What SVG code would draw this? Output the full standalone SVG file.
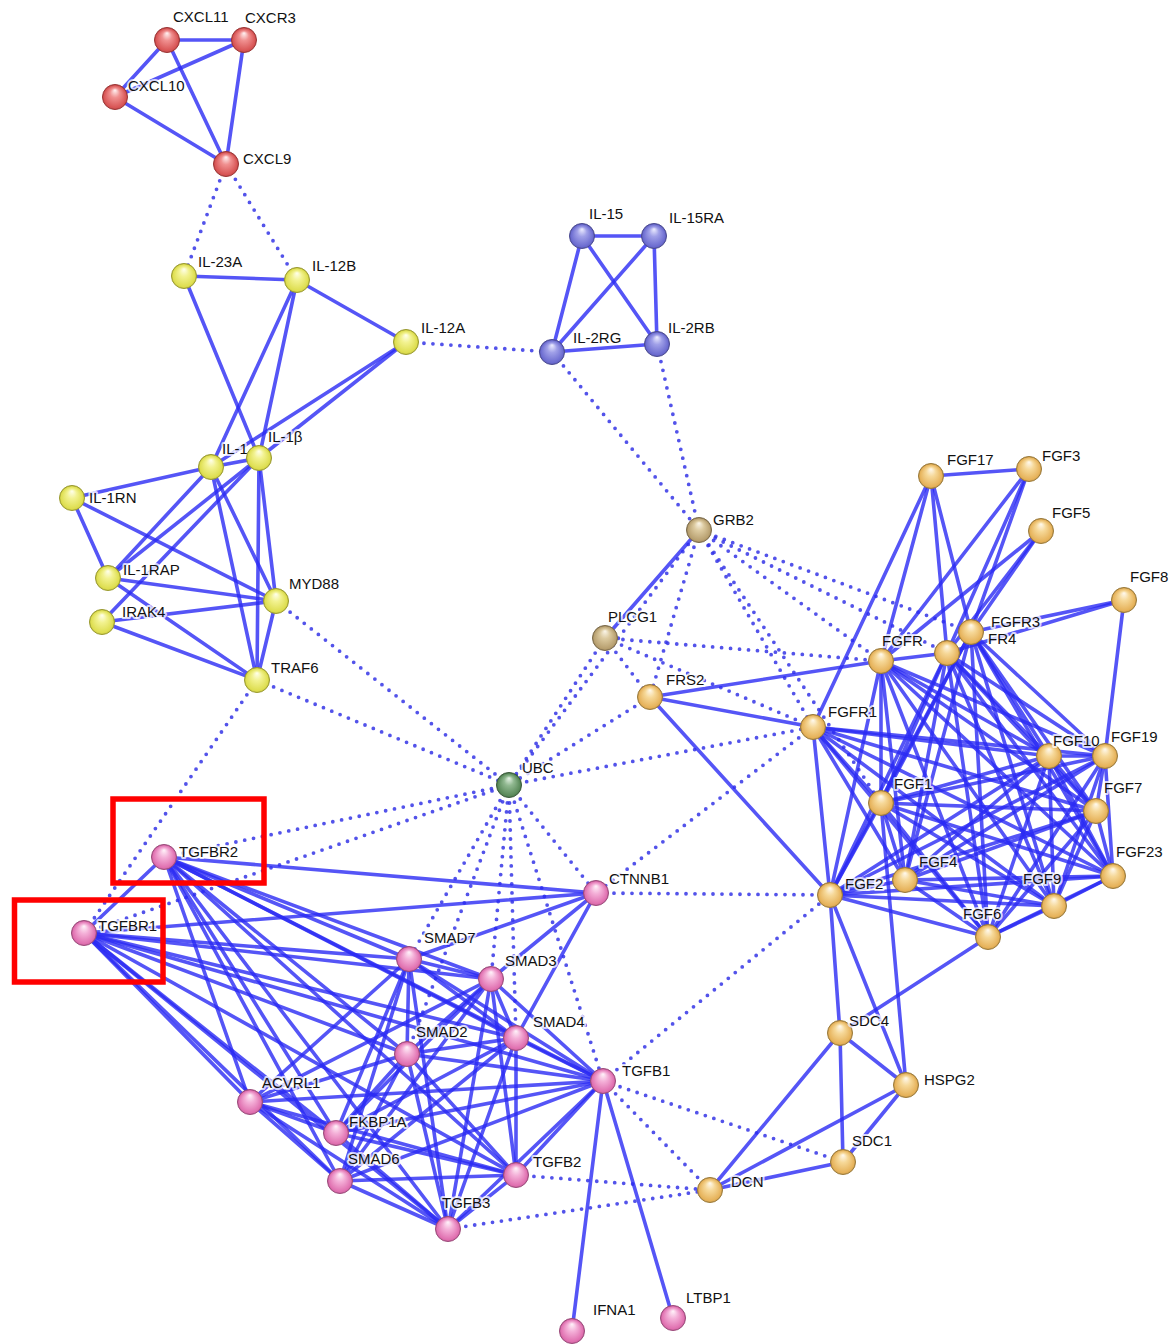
<svg xmlns="http://www.w3.org/2000/svg" width="1175" height="1344" viewBox="0 0 1175 1344">
<defs>
<style>
.s line{stroke:#2a2af4;stroke-opacity:0.8;stroke-width:3.6;stroke-linecap:round}
.d line{stroke:#3535e6;stroke-opacity:0.85;stroke-width:3.8;stroke-linecap:round;stroke-dasharray:0 9}
.n circle{stroke-width:1}
.n text{font-family:"Liberation Sans",Arial,sans-serif;font-size:15px;fill:#111;stroke:#fff;stroke-opacity:0.75;stroke-width:4;paint-order:stroke;stroke-linejoin:round}
.red circle{fill:url(#gRed);stroke:#9a3434}
.yel circle{fill:url(#gYel);stroke:#9a9a30}
.blu circle{fill:url(#gBlu);stroke:#4a4a90}
.gol circle{fill:url(#gGol);stroke:#9a7a3a}
.pnk circle{fill:url(#gPnk);stroke:#9a4a7a}
.grn circle{fill:url(#gGrn);stroke:#3a5a3a}
.kha circle{fill:url(#gKha);stroke:#7a6a4a}
.box{fill:none;stroke:#ff0000;stroke-width:5.5}
</style>
<radialGradient id="gRed" cx="50%" cy="55%" r="55%" fx="50%" fy="22%"><stop offset="0" stop-color="#fff4f4"/><stop offset="0.35" stop-color="#f09090"/><stop offset="0.8" stop-color="#d85555"/><stop offset="1" stop-color="#a83a3a"/></radialGradient>
<radialGradient id="gYel" cx="50%" cy="55%" r="55%" fx="50%" fy="22%"><stop offset="0" stop-color="#ffffee"/><stop offset="0.35" stop-color="#f2f290"/><stop offset="0.8" stop-color="#dede50"/><stop offset="1" stop-color="#a8a830"/></radialGradient>
<radialGradient id="gBlu" cx="50%" cy="55%" r="55%" fx="50%" fy="22%"><stop offset="0" stop-color="#eeeeff"/><stop offset="0.35" stop-color="#a0a0e8"/><stop offset="0.8" stop-color="#6c6cd0"/><stop offset="1" stop-color="#4a4aa0"/></radialGradient>
<radialGradient id="gGol" cx="50%" cy="55%" r="55%" fx="50%" fy="22%"><stop offset="0" stop-color="#fffaf0"/><stop offset="0.35" stop-color="#f6d898"/><stop offset="0.8" stop-color="#e6b25a"/><stop offset="1" stop-color="#a8803a"/></radialGradient>
<radialGradient id="gPnk" cx="50%" cy="55%" r="55%" fx="50%" fy="22%"><stop offset="0" stop-color="#fff4fa"/><stop offset="0.35" stop-color="#f4b0d8"/><stop offset="0.8" stop-color="#e070b0"/><stop offset="1" stop-color="#a84a80"/></radialGradient>
<radialGradient id="gGrn" cx="50%" cy="55%" r="55%" fx="50%" fy="22%"><stop offset="0" stop-color="#e8f4e8"/><stop offset="0.35" stop-color="#90b890"/><stop offset="0.8" stop-color="#5a8a5a"/><stop offset="1" stop-color="#3a5e3a"/></radialGradient>
<radialGradient id="gKha" cx="50%" cy="55%" r="55%" fx="50%" fy="22%"><stop offset="0" stop-color="#fbf6ea"/><stop offset="0.35" stop-color="#dccaa0"/><stop offset="0.8" stop-color="#b8a070"/><stop offset="1" stop-color="#826c44"/></radialGradient>
</defs>
<rect width="1175" height="1344" fill="#ffffff"/>
<g id="connectors">
<g class="d">
<line x1="226" y1="164" x2="184" y2="276"/>
<line x1="226" y1="164" x2="297" y2="280"/>
<line x1="406" y1="342" x2="552" y2="352"/>
<line x1="276" y1="601" x2="509" y2="785"/>
<line x1="257" y1="680" x2="509" y2="785"/>
<line x1="257" y1="680" x2="84" y2="933"/>
<line x1="552" y1="352" x2="699" y2="530"/>
<line x1="657" y1="344" x2="699" y2="530"/>
<line x1="699" y1="530" x2="650" y2="697"/>
<line x1="699" y1="530" x2="813" y2="727"/>
<line x1="699" y1="530" x2="881" y2="803"/>
<line x1="699" y1="530" x2="881" y2="661"/>
<line x1="699" y1="530" x2="947" y2="653"/>
<line x1="699" y1="530" x2="971" y2="632"/>
<line x1="699" y1="530" x2="509" y2="785"/>
<line x1="605" y1="638" x2="650" y2="697"/>
<line x1="605" y1="638" x2="881" y2="661"/>
<line x1="605" y1="638" x2="813" y2="727"/>
<line x1="605" y1="638" x2="509" y2="785"/>
<line x1="650" y1="697" x2="509" y2="785"/>
<line x1="509" y1="785" x2="813" y2="727"/>
<line x1="509" y1="785" x2="164" y2="857"/>
<line x1="509" y1="785" x2="84" y2="933"/>
<line x1="509" y1="785" x2="596" y2="893"/>
<line x1="509" y1="785" x2="409" y2="959"/>
<line x1="509" y1="785" x2="491" y2="979"/>
<line x1="509" y1="785" x2="407" y2="1054"/>
<line x1="509" y1="785" x2="516" y2="1038"/>
<line x1="509" y1="785" x2="603" y2="1081"/>
<line x1="813" y1="727" x2="596" y2="893"/>
<line x1="596" y1="893" x2="830" y2="895"/>
<line x1="603" y1="1081" x2="830" y2="895"/>
<line x1="603" y1="1081" x2="843" y2="1162"/>
<line x1="603" y1="1081" x2="710" y2="1190"/>
<line x1="516" y1="1175" x2="710" y2="1190"/>
<line x1="448" y1="1229" x2="710" y2="1190"/>
</g>
<g class="s">
<line x1="167" y1="40" x2="244" y2="40"/>
<line x1="167" y1="40" x2="115" y2="97"/>
<line x1="115" y1="97" x2="244" y2="40"/>
<line x1="167" y1="40" x2="226" y2="164"/>
<line x1="244" y1="40" x2="226" y2="164"/>
<line x1="115" y1="97" x2="226" y2="164"/>
<line x1="184" y1="276" x2="297" y2="280"/>
<line x1="184" y1="276" x2="259" y2="458"/>
<line x1="297" y1="280" x2="211" y2="467"/>
<line x1="297" y1="280" x2="259" y2="458"/>
<line x1="297" y1="280" x2="406" y2="342"/>
<line x1="406" y1="342" x2="211" y2="467"/>
<line x1="406" y1="342" x2="259" y2="458"/>
<line x1="211" y1="467" x2="259" y2="458"/>
<line x1="211" y1="467" x2="72" y2="498"/>
<line x1="72" y1="498" x2="108" y2="578"/>
<line x1="72" y1="498" x2="276" y2="601"/>
<line x1="211" y1="467" x2="108" y2="578"/>
<line x1="259" y1="458" x2="108" y2="578"/>
<line x1="259" y1="458" x2="102" y2="622"/>
<line x1="211" y1="467" x2="276" y2="601"/>
<line x1="211" y1="467" x2="257" y2="680"/>
<line x1="259" y1="458" x2="276" y2="601"/>
<line x1="259" y1="458" x2="257" y2="680"/>
<line x1="108" y1="578" x2="276" y2="601"/>
<line x1="108" y1="578" x2="257" y2="680"/>
<line x1="102" y1="622" x2="276" y2="601"/>
<line x1="102" y1="622" x2="257" y2="680"/>
<line x1="276" y1="601" x2="257" y2="680"/>
<line x1="582" y1="236" x2="654" y2="236"/>
<line x1="582" y1="236" x2="552" y2="352"/>
<line x1="582" y1="236" x2="657" y2="344"/>
<line x1="654" y1="236" x2="552" y2="352"/>
<line x1="654" y1="236" x2="657" y2="344"/>
<line x1="552" y1="352" x2="657" y2="344"/>
<line x1="699" y1="530" x2="605" y2="638"/>
<line x1="650" y1="697" x2="881" y2="661"/>
<line x1="650" y1="697" x2="813" y2="727"/>
<line x1="650" y1="697" x2="830" y2="895"/>
<line x1="830" y1="895" x2="840" y2="1033"/>
<line x1="840" y1="1033" x2="843" y2="1162"/>
<line x1="840" y1="1033" x2="906" y2="1085"/>
<line x1="840" y1="1033" x2="710" y2="1190"/>
<line x1="906" y1="1085" x2="843" y2="1162"/>
<line x1="906" y1="1085" x2="710" y2="1190"/>
<line x1="843" y1="1162" x2="710" y2="1190"/>
<line x1="906" y1="1085" x2="830" y2="895"/>
<line x1="906" y1="1085" x2="881" y2="803"/>
<line x1="840" y1="1033" x2="988" y2="937"/>
<line x1="603" y1="1081" x2="572" y2="1331"/>
<line x1="603" y1="1081" x2="673" y2="1318"/>
<line x1="931" y1="476" x2="1029" y2="469"/>
<line x1="1124" y1="600" x2="1105" y2="756"/>
<line x1="813" y1="727" x2="931" y2="476"/>
<line x1="813" y1="727" x2="1049" y2="756"/>
<line x1="813" y1="727" x2="1105" y2="756"/>
<line x1="813" y1="727" x2="881" y2="803"/>
<line x1="813" y1="727" x2="1096" y2="811"/>
<line x1="813" y1="727" x2="905" y2="880"/>
<line x1="813" y1="727" x2="830" y2="895"/>
<line x1="813" y1="727" x2="1054" y2="906"/>
<line x1="813" y1="727" x2="1113" y2="876"/>
<line x1="813" y1="727" x2="988" y2="937"/>
<line x1="881" y1="661" x2="931" y2="476"/>
<line x1="881" y1="661" x2="1029" y2="469"/>
<line x1="881" y1="661" x2="1041" y2="531"/>
<line x1="881" y1="661" x2="947" y2="653"/>
<line x1="881" y1="661" x2="1049" y2="756"/>
<line x1="881" y1="661" x2="1105" y2="756"/>
<line x1="881" y1="661" x2="881" y2="803"/>
<line x1="881" y1="661" x2="1096" y2="811"/>
<line x1="881" y1="661" x2="905" y2="880"/>
<line x1="881" y1="661" x2="830" y2="895"/>
<line x1="881" y1="661" x2="1054" y2="906"/>
<line x1="881" y1="661" x2="1113" y2="876"/>
<line x1="881" y1="661" x2="988" y2="937"/>
<line x1="947" y1="653" x2="931" y2="476"/>
<line x1="947" y1="653" x2="1029" y2="469"/>
<line x1="947" y1="653" x2="1041" y2="531"/>
<line x1="947" y1="653" x2="1124" y2="600"/>
<line x1="947" y1="653" x2="1049" y2="756"/>
<line x1="947" y1="653" x2="1105" y2="756"/>
<line x1="947" y1="653" x2="881" y2="803"/>
<line x1="947" y1="653" x2="1096" y2="811"/>
<line x1="947" y1="653" x2="905" y2="880"/>
<line x1="947" y1="653" x2="830" y2="895"/>
<line x1="947" y1="653" x2="1054" y2="906"/>
<line x1="947" y1="653" x2="1113" y2="876"/>
<line x1="947" y1="653" x2="988" y2="937"/>
<line x1="971" y1="632" x2="931" y2="476"/>
<line x1="971" y1="632" x2="1029" y2="469"/>
<line x1="971" y1="632" x2="1041" y2="531"/>
<line x1="971" y1="632" x2="1124" y2="600"/>
<line x1="971" y1="632" x2="1049" y2="756"/>
<line x1="971" y1="632" x2="1105" y2="756"/>
<line x1="971" y1="632" x2="881" y2="803"/>
<line x1="971" y1="632" x2="1096" y2="811"/>
<line x1="971" y1="632" x2="905" y2="880"/>
<line x1="971" y1="632" x2="830" y2="895"/>
<line x1="971" y1="632" x2="1054" y2="906"/>
<line x1="971" y1="632" x2="1113" y2="876"/>
<line x1="971" y1="632" x2="988" y2="937"/>
<line x1="1049" y1="756" x2="1105" y2="756"/>
<line x1="1049" y1="756" x2="881" y2="803"/>
<line x1="1049" y1="756" x2="1096" y2="811"/>
<line x1="1049" y1="756" x2="905" y2="880"/>
<line x1="1049" y1="756" x2="830" y2="895"/>
<line x1="1049" y1="756" x2="1054" y2="906"/>
<line x1="1049" y1="756" x2="1113" y2="876"/>
<line x1="1049" y1="756" x2="988" y2="937"/>
<line x1="1105" y1="756" x2="881" y2="803"/>
<line x1="1105" y1="756" x2="1096" y2="811"/>
<line x1="1105" y1="756" x2="905" y2="880"/>
<line x1="1105" y1="756" x2="830" y2="895"/>
<line x1="1105" y1="756" x2="1054" y2="906"/>
<line x1="1105" y1="756" x2="1113" y2="876"/>
<line x1="1105" y1="756" x2="988" y2="937"/>
<line x1="881" y1="803" x2="1096" y2="811"/>
<line x1="881" y1="803" x2="905" y2="880"/>
<line x1="881" y1="803" x2="830" y2="895"/>
<line x1="881" y1="803" x2="1054" y2="906"/>
<line x1="881" y1="803" x2="1113" y2="876"/>
<line x1="881" y1="803" x2="988" y2="937"/>
<line x1="1096" y1="811" x2="905" y2="880"/>
<line x1="1096" y1="811" x2="830" y2="895"/>
<line x1="1096" y1="811" x2="1054" y2="906"/>
<line x1="1096" y1="811" x2="1113" y2="876"/>
<line x1="1096" y1="811" x2="988" y2="937"/>
<line x1="905" y1="880" x2="830" y2="895"/>
<line x1="905" y1="880" x2="1054" y2="906"/>
<line x1="905" y1="880" x2="1113" y2="876"/>
<line x1="905" y1="880" x2="988" y2="937"/>
<line x1="830" y1="895" x2="1054" y2="906"/>
<line x1="830" y1="895" x2="1113" y2="876"/>
<line x1="830" y1="895" x2="988" y2="937"/>
<line x1="1054" y1="906" x2="1113" y2="876"/>
<line x1="1054" y1="906" x2="988" y2="937"/>
<line x1="1113" y1="876" x2="988" y2="937"/>
<line x1="164" y1="857" x2="84" y2="933"/>
<line x1="164" y1="857" x2="596" y2="893"/>
<line x1="164" y1="857" x2="409" y2="959"/>
<line x1="164" y1="857" x2="491" y2="979"/>
<line x1="164" y1="857" x2="516" y2="1038"/>
<line x1="164" y1="857" x2="407" y2="1054"/>
<line x1="164" y1="857" x2="603" y2="1081"/>
<line x1="164" y1="857" x2="250" y2="1102"/>
<line x1="164" y1="857" x2="336" y2="1133"/>
<line x1="164" y1="857" x2="340" y2="1181"/>
<line x1="164" y1="857" x2="516" y2="1175"/>
<line x1="164" y1="857" x2="448" y2="1229"/>
<line x1="84" y1="933" x2="596" y2="893"/>
<line x1="84" y1="933" x2="409" y2="959"/>
<line x1="84" y1="933" x2="491" y2="979"/>
<line x1="84" y1="933" x2="516" y2="1038"/>
<line x1="84" y1="933" x2="407" y2="1054"/>
<line x1="84" y1="933" x2="603" y2="1081"/>
<line x1="84" y1="933" x2="250" y2="1102"/>
<line x1="84" y1="933" x2="336" y2="1133"/>
<line x1="84" y1="933" x2="340" y2="1181"/>
<line x1="84" y1="933" x2="516" y2="1175"/>
<line x1="84" y1="933" x2="448" y2="1229"/>
<line x1="409" y1="959" x2="491" y2="979"/>
<line x1="409" y1="959" x2="407" y2="1054"/>
<line x1="409" y1="959" x2="516" y2="1038"/>
<line x1="409" y1="959" x2="603" y2="1081"/>
<line x1="409" y1="959" x2="596" y2="893"/>
<line x1="409" y1="959" x2="250" y2="1102"/>
<line x1="409" y1="959" x2="336" y2="1133"/>
<line x1="409" y1="959" x2="340" y2="1181"/>
<line x1="409" y1="959" x2="448" y2="1229"/>
<line x1="491" y1="979" x2="516" y2="1038"/>
<line x1="491" y1="979" x2="407" y2="1054"/>
<line x1="491" y1="979" x2="603" y2="1081"/>
<line x1="491" y1="979" x2="596" y2="893"/>
<line x1="491" y1="979" x2="516" y2="1175"/>
<line x1="491" y1="979" x2="448" y2="1229"/>
<line x1="491" y1="979" x2="336" y2="1133"/>
<line x1="491" y1="979" x2="340" y2="1181"/>
<line x1="491" y1="979" x2="250" y2="1102"/>
<line x1="516" y1="1038" x2="407" y2="1054"/>
<line x1="516" y1="1038" x2="603" y2="1081"/>
<line x1="516" y1="1038" x2="596" y2="893"/>
<line x1="516" y1="1038" x2="516" y2="1175"/>
<line x1="516" y1="1038" x2="448" y2="1229"/>
<line x1="516" y1="1038" x2="340" y2="1181"/>
<line x1="516" y1="1038" x2="336" y2="1133"/>
<line x1="407" y1="1054" x2="603" y2="1081"/>
<line x1="407" y1="1054" x2="516" y2="1175"/>
<line x1="407" y1="1054" x2="448" y2="1229"/>
<line x1="407" y1="1054" x2="250" y2="1102"/>
<line x1="407" y1="1054" x2="336" y2="1133"/>
<line x1="407" y1="1054" x2="340" y2="1181"/>
<line x1="603" y1="1081" x2="250" y2="1102"/>
<line x1="603" y1="1081" x2="336" y2="1133"/>
<line x1="603" y1="1081" x2="340" y2="1181"/>
<line x1="603" y1="1081" x2="516" y2="1175"/>
<line x1="603" y1="1081" x2="448" y2="1229"/>
<line x1="250" y1="1102" x2="336" y2="1133"/>
<line x1="250" y1="1102" x2="340" y2="1181"/>
<line x1="250" y1="1102" x2="448" y2="1229"/>
<line x1="250" y1="1102" x2="516" y2="1175"/>
<line x1="336" y1="1133" x2="448" y2="1229"/>
<line x1="336" y1="1133" x2="516" y2="1175"/>
<line x1="340" y1="1181" x2="448" y2="1229"/>
<line x1="340" y1="1181" x2="516" y2="1175"/>
<line x1="516" y1="1175" x2="448" y2="1229"/>
</g>
</g>
<g id="nodes">
<g id="CXCL11" class="n red"><circle cx="167" cy="40" r="12.5"/><text x="173" y="22">CXCL11</text></g>
<g id="CXCR3" class="n red"><circle cx="244" cy="40" r="12.5"/><text x="245" y="23">CXCR3</text></g>
<g id="CXCL10" class="n red"><circle cx="115" cy="97" r="12.5"/><text x="128" y="91">CXCL10</text></g>
<g id="CXCL9" class="n red"><circle cx="226" cy="164" r="12.5"/><text x="243" y="164">CXCL9</text></g>
<g id="IL-23A" class="n yel"><circle cx="184" cy="276" r="12.5"/><text x="198" y="267">IL-23A</text></g>
<g id="IL-12B" class="n yel"><circle cx="297" cy="280" r="12.5"/><text x="312" y="271">IL-12B</text></g>
<g id="IL-12A" class="n yel"><circle cx="406" cy="342" r="12.5"/><text x="421" y="333">IL-12A</text></g>
<g id="IL-1" class="n yel"><circle cx="211" cy="467" r="12.5"/><text x="222" y="454">IL-1</text></g>
<g id="IL-1B" class="n yel"><circle cx="259" cy="458" r="12.5"/><text x="268" y="442">IL-1β</text></g>
<g id="IL-1RN" class="n yel"><circle cx="72" cy="498" r="12.5"/><text x="89" y="503">IL-1RN</text></g>
<g id="IL-1RAP" class="n yel"><circle cx="108" cy="578" r="12.5"/><text x="123" y="575">IL-1RAP</text></g>
<g id="IRAK4" class="n yel"><circle cx="102" cy="622" r="12.5"/><text x="122" y="617">IRAK4</text></g>
<g id="MYD88" class="n yel"><circle cx="276" cy="601" r="12.5"/><text x="289" y="589">MYD88</text></g>
<g id="TRAF6" class="n yel"><circle cx="257" cy="680" r="12.5"/><text x="271" y="673">TRAF6</text></g>
<g id="IL-15" class="n blu"><circle cx="582" cy="236" r="12.5"/><text x="589" y="219">IL-15</text></g>
<g id="IL-15RA" class="n blu"><circle cx="654" cy="236" r="12.5"/><text x="669" y="223">IL-15RA</text></g>
<g id="IL-2RG" class="n blu"><circle cx="552" cy="352" r="12.5"/><text x="573" y="343">IL-2RG</text></g>
<g id="IL-2RB" class="n blu"><circle cx="657" cy="344" r="12.5"/><text x="668" y="333">IL-2RB</text></g>
<g id="GRB2" class="n kha"><circle cx="699" cy="530" r="12.5"/><text x="713" y="525">GRB2</text></g>
<g id="PLCG1" class="n kha"><circle cx="605" cy="638" r="12.5"/><text x="608" y="622">PLCG1</text></g>
<g id="FRS2" class="n gol"><circle cx="650" cy="697" r="12.5"/><text x="666" y="685">FRS2</text></g>
<g id="UBC" class="n grn"><circle cx="509" cy="785" r="12.5"/><text x="522" y="773">UBC</text></g>
<g id="FGFR1" class="n gol"><circle cx="813" cy="727" r="12.5"/><text x="828" y="717">FGFR1</text></g>
<g id="FGFR" class="n gol"><circle cx="881" cy="661" r="12.5"/><text x="882" y="646">FGFR</text></g>
<g id="FGFR4" class="n gol"><circle cx="947" cy="653" r="12.5"/><text x="988" y="644">FR4</text></g>
<g id="FGFR3" class="n gol"><circle cx="971" cy="632" r="12.5"/><text x="991" y="627">FGFR3</text></g>
<g id="FGF17" class="n gol"><circle cx="931" cy="476" r="12.5"/><text x="947" y="465">FGF17</text></g>
<g id="FGF3" class="n gol"><circle cx="1029" cy="469" r="12.5"/><text x="1042" y="461">FGF3</text></g>
<g id="FGF5" class="n gol"><circle cx="1041" cy="531" r="12.5"/><text x="1052" y="518">FGF5</text></g>
<g id="FGF8" class="n gol"><circle cx="1124" cy="600" r="12.5"/><text x="1130" y="582">FGF8</text></g>
<g id="FGF10" class="n gol"><circle cx="1049" cy="756" r="12.5"/><text x="1053" y="746">FGF10</text></g>
<g id="FGF19" class="n gol"><circle cx="1105" cy="756" r="12.5"/><text x="1111" y="742">FGF19</text></g>
<g id="FGF1" class="n gol"><circle cx="881" cy="803" r="12.5"/><text x="894" y="789">FGF1</text></g>
<g id="FGF7" class="n gol"><circle cx="1096" cy="811" r="12.5"/><text x="1104" y="793">FGF7</text></g>
<g id="FGF4" class="n gol"><circle cx="905" cy="880" r="12.5"/><text x="919" y="867">FGF4</text></g>
<g id="FGF2" class="n gol"><circle cx="830" cy="895" r="12.5"/><text x="845" y="889">FGF2</text></g>
<g id="FGF9" class="n gol"><circle cx="1054" cy="906" r="12.5"/><text x="1023" y="884">FGF9</text></g>
<g id="FGF23" class="n gol"><circle cx="1113" cy="876" r="12.5"/><text x="1116" y="857">FGF23</text></g>
<g id="FGF6" class="n gol"><circle cx="988" cy="937" r="12.5"/><text x="963" y="919">FGF6</text></g>
<g id="SDC4" class="n gol"><circle cx="840" cy="1033" r="12.5"/><text x="849" y="1026">SDC4</text></g>
<g id="HSPG2" class="n gol"><circle cx="906" cy="1085" r="12.5"/><text x="924" y="1085">HSPG2</text></g>
<g id="SDC1" class="n gol"><circle cx="843" cy="1162" r="12.5"/><text x="852" y="1146">SDC1</text></g>
<g id="DCN" class="n gol"><circle cx="710" cy="1190" r="12.5"/><text x="731" y="1187">DCN</text></g>
<g id="TGFBR2" class="n pnk"><circle cx="164" cy="857" r="12.5"/><text x="179" y="857">TGFBR2</text></g>
<g id="TGFBR1" class="n pnk"><circle cx="84" cy="933" r="12.5"/><text x="98" y="931">TGFBR1</text></g>
<g id="CTNNB1" class="n pnk"><circle cx="596" cy="893" r="12.5"/><text x="609" y="884">CTNNB1</text></g>
<g id="SMAD7" class="n pnk"><circle cx="409" cy="959" r="12.5"/><text x="424" y="943">SMAD7</text></g>
<g id="SMAD3" class="n pnk"><circle cx="491" cy="979" r="12.5"/><text x="505" y="966">SMAD3</text></g>
<g id="SMAD4" class="n pnk"><circle cx="516" cy="1038" r="12.5"/><text x="533" y="1027">SMAD4</text></g>
<g id="SMAD2" class="n pnk"><circle cx="407" cy="1054" r="12.5"/><text x="416" y="1037">SMAD2</text></g>
<g id="TGFB1" class="n pnk"><circle cx="603" cy="1081" r="12.5"/><text x="622" y="1076">TGFB1</text></g>
<g id="ACVRL1" class="n pnk"><circle cx="250" cy="1102" r="12.5"/><text x="262" y="1088">ACVRL1</text></g>
<g id="FKBP1A" class="n pnk"><circle cx="336" cy="1133" r="12.5"/><text x="349" y="1127">FKBP1A</text></g>
<g id="SMAD6" class="n pnk"><circle cx="340" cy="1181" r="12.5"/><text x="348" y="1164">SMAD6</text></g>
<g id="TGFB2" class="n pnk"><circle cx="516" cy="1175" r="12.5"/><text x="533" y="1167">TGFB2</text></g>
<g id="TGFB3" class="n pnk"><circle cx="448" cy="1229" r="12.5"/><text x="442" y="1208">TGFB3</text></g>
<g id="IFNA1" class="n pnk"><circle cx="572" cy="1331" r="12.5"/><text x="593" y="1315">IFNA1</text></g>
<g id="LTBP1" class="n pnk"><circle cx="673" cy="1318" r="12.5"/><text x="686" y="1303">LTBP1</text></g>
</g>
<g id="highlights">
<rect class="box" x="113" y="799" width="151" height="84"/>
<rect class="box" x="14.5" y="900" width="148.5" height="82"/>
</g>
</svg>
